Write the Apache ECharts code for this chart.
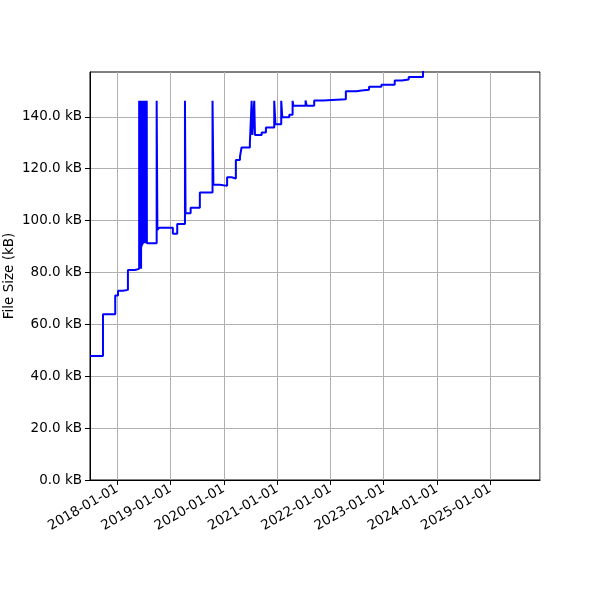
<!DOCTYPE html>
<html>
<head>
<meta charset="utf-8">
<script src="https://cdn.jsdelivr.net/npm/echarts@6/dist/echarts.min.js"></script>
<style>html,body{margin:0;padding:0;background:#fff}#c{width:600px;height:600px}</style>
</head>
<body>
<div id="c"></div>
<script>
// Dates (step start) and file sizes in kB (value held until next date)
const dates = [
  '2017-06-28','2017-09-25','2017-12-18','2018-01-06','2018-02-09','2018-02-20','2018-03-15','2018-05-02',
  '2018-05-31','2018-06-01','2018-06-04','2018-06-05','2018-06-08','2018-06-09','2018-06-12','2018-06-13',
  '2018-06-16','2018-06-17','2018-06-20','2018-06-21','2018-06-24','2018-06-25','2018-06-28','2018-06-29',
  '2018-07-02','2018-07-03','2018-07-06','2018-07-07','2018-07-10','2018-07-11','2018-07-14','2018-07-15',
  '2018-07-18','2018-07-19','2018-07-22','2018-07-23',
  '2018-09-28','2018-10-03','2018-10-15','2019-01-17','2019-02-16',
  '2019-04-10','2019-04-14','2019-05-19','2019-07-21',
  '2019-10-16','2019-10-22','2019-12-05',
  '2020-01-24','2020-02-25','2020-03-24','2020-04-21','2020-05-02','2020-06-28',
  '2020-07-10','2020-07-15','2020-07-28','2020-08-02','2020-09-17','2020-10-16',
  '2020-12-12','2020-12-20','2021-01-29','2021-02-05','2021-03-25',
  '2021-04-17','2021-04-22','2021-07-15','2021-07-22','2021-09-12','2021-11-12',
  '2022-04-17','2022-06-29','2022-08-04','2022-09-23','2022-12-17',
  '2023-03-18','2023-05-05','2023-06-22','2023-09-28','2023-10-10'
];
const sizes = [
  47.8, 63.9, 71.1, 73.0, 72.5, 73.3, 81.0, 81.4,
  146.2, 81.4, 146.2, 81.4, 146.2, 81.4, 146.2, 81.4,
  146.2, 90.0, 146.2, 90.5, 146.2, 91.0, 146.2, 91.3,
  146.2, 91.3, 146.2, 91.3, 146.2, 91.3, 146.2, 91.3,
  146.2, 91.3, 146.2, 91.3,
  146.2, 96.4, 97.3, 94.9, 98.7,
  146.2, 102.8, 105.0, 110.8,
  146.2, 113.8, 113.4,
  116.7, 116.2, 123.4, 124.7, 128.2, 130.0,
  146.2, 133.0, 146.2, 133.0, 134.0, 135.9,
  146.2, 137.2, 146.2, 139.9, 140.8,
  146.2, 144.3, 146.3, 144.3, 146.3, 146.8,
  149.9, 150.2, 150.5, 151.6, 152.4,
  154.0, 154.4, 155.4, 158.5, 158.5
];
const xMinDate = '2017-06-28';
const xMaxDate = '2025-12-08';
const yTicks = [0, 20, 40, 60, 80, 100, 120, 140];
const yMax = 157.3;
const yLabel = 'File Size (kB)';

function ts(s) { return new Date(s + 'T00:00:00').getTime(); }
function pad(n) { return (n < 10 ? '0' : '') + n; }

const chart = echarts.init(document.getElementById('c'), null, {renderer: 'canvas'});
const font = 'DejaVu Sans';
const YEAR = 365 * 24 * 3600 * 1000;
chart.setOption({
  animation: false,
  backgroundColor: '#ffffff',
  grid: {left: 90, right: 60, top: 72, bottom: 120, containLabel: false, outerBoundsMode: 'none',
         show: true, borderColor: '#000', borderWidth: 1, backgroundColor: 'transparent'},
  xAxis: {
    type: 'time',
    min: ts(xMinDate), max: ts(xMaxDate),
    minInterval: YEAR, maxInterval: YEAR,
    axisLine: {show: true, lineStyle: {color: '#000', width: 1}},
    axisTick: {show: true, length: 5, lineStyle: {color: '#000'}},
    splitLine: {show: true, lineStyle: {color: '#b0b0b0', width: 1}},
    axisLabel: {
      rotate: 30, color: '#000', fontFamily: font, fontSize: 13.5, margin: 8,
      showMinLabel: false, showMaxLabel: false, hideOverlap: false,
      formatter: function (v) { const d = new Date(v); return d.getFullYear() + '-' + pad(d.getMonth() + 1) + '-' + pad(d.getDate()); }
    }
  },
  yAxis: {
    type: 'value', min: 0, max: yMax, interval: 20,
    name: yLabel, nameLocation: 'middle', nameGap: 74, nameRotate: 90, nameMoveOverlap: false,
    nameTextStyle: {color: '#000', fontFamily: font, fontSize: 13.5},
    axisLine: {show: true, lineStyle: {color: '#000', width: 1}},
    axisTick: {show: true, length: 5, lineStyle: {color: '#000'}, customValues: yTicks},
    splitLine: {show: true, lineStyle: {color: '#b0b0b0', width: 1}},
    axisLabel: {
      color: '#000', fontFamily: font, fontSize: 13.5, margin: 8, customValues: yTicks,
      formatter: function (v) { return v.toFixed(1) + ' kB'; }
    }
  },
  series: [{
    type: 'line', step: 'end', showSymbol: false, clip: true,
    lineStyle: {color: '#0000ff', width: 2},
    data: dates.map((d, i) => [ts(d), sizes[i]])
  }]
});
</script>
</body>
</html>
